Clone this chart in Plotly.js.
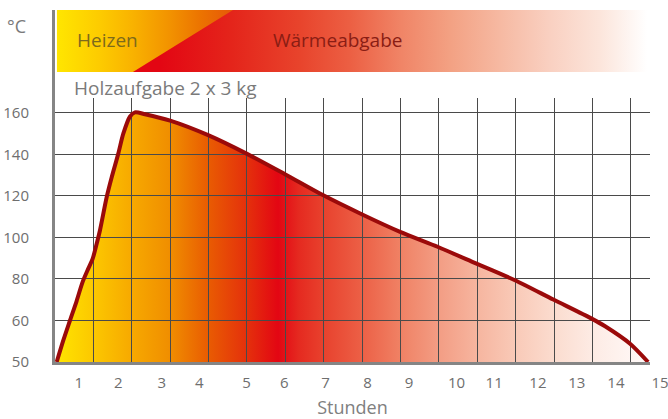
<!DOCTYPE html>
<html><head><meta charset="utf-8">
<script src="https://cdn.plot.ly/plotly-3.0.1.min.js"></script>
<style>html,body{margin:0;padding:0;background:#fff}</style>
</head><body>
<div id="chart" style="width:668px;height:419px"></div>
<script>
// ---- data (x in grid columns of the chart, y in °C) ----
const hours = [0.044,0.216,0.39,0.565,0.72,0.867,0.982,1.086,1.172,1.347,1.477,1.649,1.779,1.954,2.084,2.344,3.00,3.99,4.99,5.99,6.99,7.99,8.99,9.98,10.98,11.98,12.98,13.98,14.33,14.98,15.45];
const temps = [50,55.2,60,69.5,78.6,85,89.8,97,103.5,119.5,129,140.4,150,158.3,160.3,159.4,156.3,149.3,140.4,130.5,120.3,111.2,102.7,95.4,87.4,79.4,70.1,60.9,58.6,54.4,50];
const hourLabels = ['1','2','3','4','5','6','7','8','9','10','11','12','13','14','15'];
const hourLabelPos = [0.62,1.65,2.78,3.76,4.99,5.97,7.05,8.14,9.22,10.46,11.44,12.58,13.59,14.61,15.76];
const tempTicks = [50,60,80,100,120,140,160];
const phaseNames = ['Heizen','Wärmeabgabe'];
const loadText = 'Holzaufgabe 2 x 3 kg';
const yUnit = '°C';
const xTitle = 'Stunden';

// broken axis: 50..60 °C drawn with double scale
function toAxis(t){ return t >= 60 ? t : 60 - (60 - t) * 2; }

const font = 'Open Sans, Noto Sans, sans-serif';
const yMapped = temps.map(toAxis);

const fillTrace = {
  x: hours, y: yMapped, xaxis:'x', yaxis:'y', type:'scatter', mode:'lines',
  line:{width:0, shape:'spline', smoothing:0.75}, fill:'tozeroy',
  fillgradient:{type:'horizontal', start:0, stop:15.5, colorscale:[
    [0,'#FFE600'],[0.064,'#FCC800'],[0.129,'#F7A900'],[0.193,'#F08E00'],
    [0.257,'#E95C02'],[0.323,'#E4300C'],[0.375,'#E30613'],[0.41,'#E52A20'],
    [0.45,'#E8412D'],[0.516,'#EC6046'],[0.58,'#F08164'],[0.645,'#F39D84'],
    [0.709,'#F6B59F'],[0.775,'#F9CAB8'],[0.839,'#FBDCCF'],[0.903,'#FDEBE4'],
    [0.984,'#FFF8F6'],[1,'#FFFFFF']]},
  hoverinfo:'skip'
};
const lineTrace = {
  x: hours, y: yMapped, xaxis:'x2', yaxis:'y2', type:'scatter', mode:'lines',
  line:{color:'#9B0A0A', width:4, shape:'spline', smoothing:0.75}, hoverinfo:'skip'
};
// banner (phase bar)
const redBand = {
  x:[1.745,1.745,15.42,15.42], y:[26,88,88,26], xaxis:'x3', yaxis:'y3',
  type:'scatter', mode:'lines', line:{width:0}, fill:'toself',
  fillgradient:{type:'horizontal', colorscale:[
    [0,'#E30613'],[0.072,'#E30613'],[0.211,'#E4251B'],[0.339,'#E8442C'],
    [0.434,'#EC5F43'],[0.53,'#F08466'],[0.625,'#F3A183'],[0.72,'#F6B9A2'],
    [0.815,'#F9D0C1'],[0.91,'#FCE5DB'],[1,'#FFFFFF']]},
  hoverinfo:'skip'
};
const yellowBand = {
  x:[0.05,0.05,4.637,2.03], y:[26,88,88,26], xaxis:'x3', yaxis:'y3',
  type:'scatter', mode:'lines', line:{width:0}, fill:'toself',
  fillgradient:{type:'horizontal', colorscale:[
    [0,'#FFE600'],[0.245,'#FDCB00'],[0.432,'#F9B200'],[0.642,'#F29200'],
    [0.812,'#EC7400'],[1,'#E65808']]},
  hoverinfo:'skip'
};

const mainTop = 0.75, mainRight = 595/613;
const gridCol = '#4a4a4a', lineCol = '#858585', tickCol = '#6e6e6e';

const layout = {
  width:668, height:419,
  margin:{l:55, r:0, t:10, b:57},
  paper_bgcolor:'#ffffff', plot_bgcolor:'rgba(0,0,0,0)',
  showlegend:false, hovermode:false,
  font:{family:font, color:tickCol},
  xaxis:{domain:[0,mainRight], range:[0,15.5], visible:false, anchor:'y', fixedrange:true},
  yaxis:{domain:[0,mainTop], range:[40,167.2], visible:false, anchor:'x', fixedrange:true},
  xaxis2:{domain:[0,mainRight], range:[0,15.5], anchor:'y2', dtick:1, tick0:0,
    showgrid:true, gridcolor:gridCol, gridwidth:1, zeroline:false,
    showticklabels:false, ticks:'', showline:true, linecolor:lineCol, linewidth:3,
    title:{text:xTitle, font:{size:18, color:'#808080', family:font}, standoff:44}},
  yaxis2:{domain:[0,mainTop], range:[40,167.2], anchor:'x2',
    tickvals:tempTicks.map(toAxis), ticktext:tempTicks.map(String),
    showgrid:true, gridcolor:gridCol, gridwidth:1, zeroline:false,
    ticks:'', ticklabelstandoff:20, tickfont:{size:15, color:tickCol, family:font},
    showline:true, linecolor:lineCol, linewidth:3},
  xaxis3:{domain:[0,1], range:[0,613/38.39], anchor:'free', position:0,
    tickvals:hourLabelPos, ticktext:hourLabels, showgrid:false, zeroline:false,
    showline:false, ticks:'', ticklabelstandoff:10, ticklabeloverflow:'allow',
    tickfont:{size:15, color:tickCol, family:font}},
  yaxis3:{domain:[mainTop,1], range:[0,88], anchor:'x3', showgrid:false, zeroline:false,
    showticklabels:false, ticks:'', showline:true, linecolor:lineCol, linewidth:3},
  annotations:[
    {xref:'x3', yref:'y3', x:1.37, y:58.5, text:phaseNames[0], showarrow:false,
     xanchor:'center', yanchor:'middle', font:{size:19, color:'#7d6a1c', family:font}},
    {xref:'x3', yref:'y3', x:7.35, y:58.5, text:phaseNames[1], showarrow:false,
     xanchor:'center', yanchor:'middle', font:{size:19, color:'#8a1d14', family:font}},
    {xref:'x3', yref:'y3', x:2.89, y:10, text:loadText, showarrow:false,
     xanchor:'center', yanchor:'middle', font:{size:19, color:'#7a7a7a', family:font}},
    {xref:'paper', yref:'paper', x:(16.5-55)/613, y:(362-26)/352, text:yUnit, showarrow:false,
     xanchor:'center', yanchor:'middle', font:{size:18, color:'#7a7a7a', family:font}}
  ]
};

Plotly.newPlot('chart', [fillTrace, lineTrace, redBand, yellowBand], layout, {staticPlot:true, displayModeBar:false});
</script>
</body></html>
